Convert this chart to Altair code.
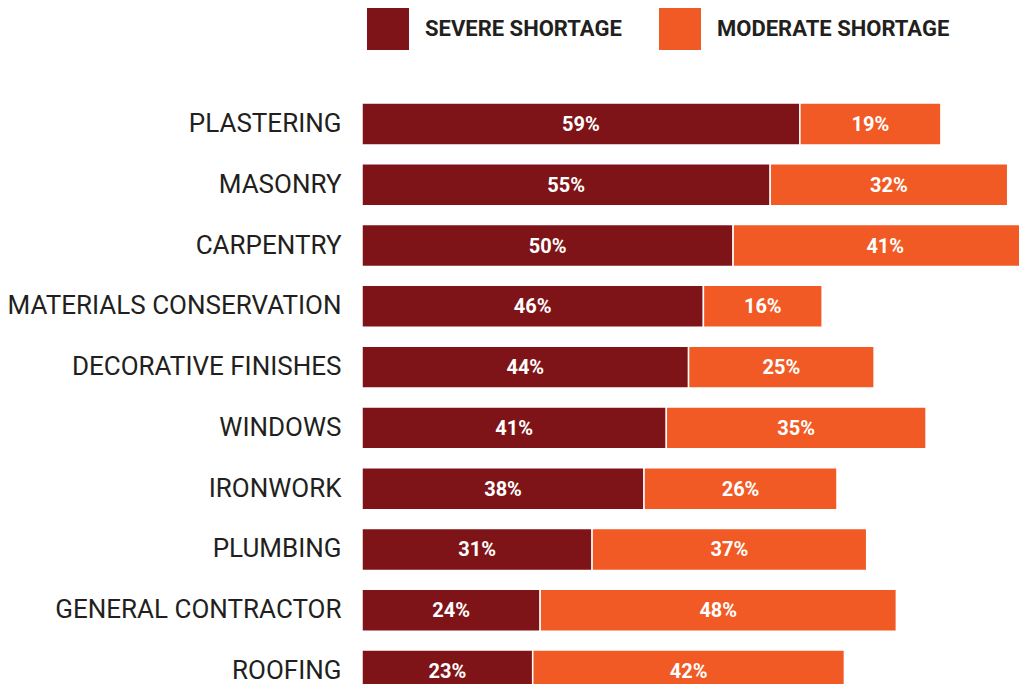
import altair as alt
import pandas as pd

categories = ["PLASTERING", "MASONRY", "CARPENTRY", "MATERIALS CONSERVATION",
              "DECORATIVE FINISHES", "WINDOWS", "IRONWORK", "PLUMBING",
              "GENERAL CONTRACTOR", "ROOFING"]
severe = [59, 55, 50, 46, 44, 41, 38, 31, 24, 23]
moderate = [19, 32, 41, 16, 25, 35, 26, 37, 48, 42]
series = ["SEVERE SHORTAGE", "MODERATE SHORTAGE"]
colors = ["#7f1418", "#f15a24"]

rows = []
for c, s, m in zip(categories, severe, moderate):
    rows.append({"cat": c, "series": series[0], "order": 0, "value": s})
    rows.append({"cat": c, "series": series[1], "order": 1, "value": m})
df = pd.DataFrame(rows)

base = alt.Chart(df).transform_stack(
    stack="value", groupby=["cat"], as_=["x0", "x1"], sort=[alt.SortField("order")]
).transform_calculate(
    mid="(datum.x0 + datum.x1) / 2", label="datum.value + '%'"
)

yscale = alt.Scale(paddingInner=0.31, paddingOuter=0)
xs = alt.Scale(domain=[0, 89.6], nice=False, zero=True)

y = alt.Y("cat:N", sort=categories, title=None, scale=yscale,
          axis=alt.Axis(domain=False, ticks=False, labelFont="Roboto",
                        labelFontSize=26, labelColor="#231f20",
                        labelPadding=21, labelLimit=500))

bars = base.mark_bar(clip=True, stroke="white", strokeWidth=1.5).encode(
    x=alt.X("x0:Q", scale=xs, axis=None),
    x2="x1:Q",
    y=y,
    color=alt.Color("series:N", scale=alt.Scale(domain=series, range=colors),
                    legend=alt.Legend(orient="none", legendX=5, legendY=-95,
                                      direction="horizontal", title=None,
                                      symbolType="square", symbolSize=1764,
                                      symbolStrokeWidth=0, labelFont="Roboto",
                                      labelFontSize=22, labelFontWeight="bold",
                                      labelColor="#231f20", labelOffset=16,
                                      labelLimit=400,
                                      columnPadding=37, padding=0)),
)

text = base.mark_text(font="Roboto", fontSize=20, fontWeight="bold",
                      color="white", dy=1).encode(
    x=alt.X("mid:Q", scale=xs, axis=None),
    y=alt.Y("cat:N", sort=categories, title=None, scale=yscale),
    text="label:N",
)

chart = alt.layer(bars, text).properties(
    width=665, height=589,
    autosize=alt.AutoSizeParams(type="none"),
    padding={"left": 354, "top": 95, "right": -8, "bottom": -8},
).configure_view(stroke=None)

chart.save("out.html", embed_options={"renderer": "svg", "actions": False})
